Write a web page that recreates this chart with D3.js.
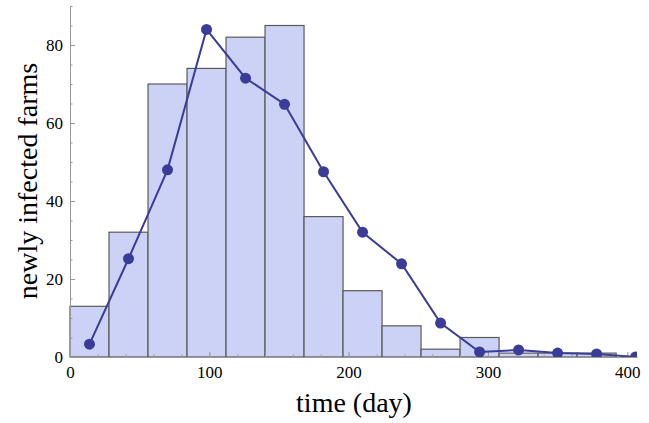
<!DOCTYPE html>
<html><head><meta charset="utf-8">
<script src="https://cdn.jsdelivr.net/npm/d3@7"></script>
<style>body{margin:0;background:#fff} svg text{font-family:'Liberation Serif','Times New Roman',serif !important;}</style>
</head><body>
<script>
// histogram bins (days) and counts
const binStarts = [0,28,56,84,112,140,168,196,224,252,280,308,336,364];
const binWidth = 28;
const binCounts = [13,32,70,74,82,85,36,17,8,2,5,1,1,1];
// model line: days and values
const lineDays = [14,42,70,98,126,154,182,210,238,266,294,322,350,378,406];
const lineValues = [3.3,25.2,48,84,71.5,64.8,47.5,32,23.9,8.7,1.3,1.8,1,0.8,0];
const xTicks = [0,100,200,300,400];
const yTicks = [0,20,40,60,80];

const W=649,H=423;
const FONT="'Liberation Serif','Times New Roman',serif";
const svg=d3.select("body").append("svg").attr("width",W).attr("height",H);
const x=d3.scaleLinear().domain([0,407]).range([70,637]);
const y=d3.scaleLinear().domain([0,90]).range([357,6]);

svg.append("defs").append("clipPath").attr("id","clip").append("rect")
  .attr("x",70).attr("y",6).attr("width",567).attr("height",351);

// bars
svg.append("g").selectAll("rect").data(binStarts).join("rect")
  .attr("x",d=>x(d)).attr("width",d=>x(d+binWidth)-x(d))
  .attr("y",(d,i)=>y(binCounts[i])).attr("height",(d,i)=>y(0)-y(binCounts[i]))
  .attr("fill","#cbd2f6").attr("stroke","#5a5a5a").attr("stroke-width",1.2);

// axes
function styleAxis(g){
  g.attr("font-family",FONT).style("font-family",FONT);
  g.select(".domain").attr("stroke","#999").attr("stroke-width",1);
  g.selectAll(".tick line").attr("stroke","#999");
  g.selectAll("text").attr("font-family",FONT).style("font-family",FONT).attr("font-size",17).attr("fill","#000");
}
const gx=svg.append("g").attr("transform","translate(0,357)")
  .call(d3.axisBottom(x).tickValues(d3.range(0,408,20)).tickSize(-2.5).tickSizeOuter(0).tickFormat(""));
styleAxis(gx);
const gx2=svg.append("g").attr("transform","translate(0,357)")
  .call(d3.axisBottom(x).tickValues(xTicks).tickSize(-5).tickSizeOuter(0).tickPadding(9));
styleAxis(gx2);
const gy=svg.append("g").attr("transform","translate(70,0)")
  .call(d3.axisLeft(y).tickValues(d3.range(0,91,5)).tickSize(-2.5).tickSizeOuter(0).tickFormat(""));
styleAxis(gy);
const gy2=svg.append("g").attr("transform","translate(70,0)")
  .call(d3.axisLeft(y).tickValues(yTicks).tickSize(-5).tickSizeOuter(0).tickPadding(7));
styleAxis(gy2);

// line and points
const pts=lineDays.map((d,i)=>[d,lineValues[i]]);
const plot=svg.append("g").attr("clip-path","url(#clip)");
plot.append("path").datum(pts)
  .attr("d",d3.line().x(d=>x(d[0])).y(d=>y(d[1])))
  .attr("fill","none").attr("stroke","#3b3b98").attr("stroke-width",2);
plot.selectAll("circle").data(pts).join("circle")
  .attr("cx",d=>x(d[0])).attr("cy",d=>y(d[1])).attr("r",5.5).attr("fill","#3b3b98");

// axis titles
svg.append("text").attr("x",354).attr("y",412).attr("text-anchor","middle")
  .style("font-family",FONT).attr("font-size",28)
  .text("time (day)");
svg.append("text").attr("transform","translate(37,181) rotate(-90)").attr("text-anchor","middle")
  .style("font-family",FONT).attr("font-size",28)
  .text("newly infected farms");
</script>
</body></html>
